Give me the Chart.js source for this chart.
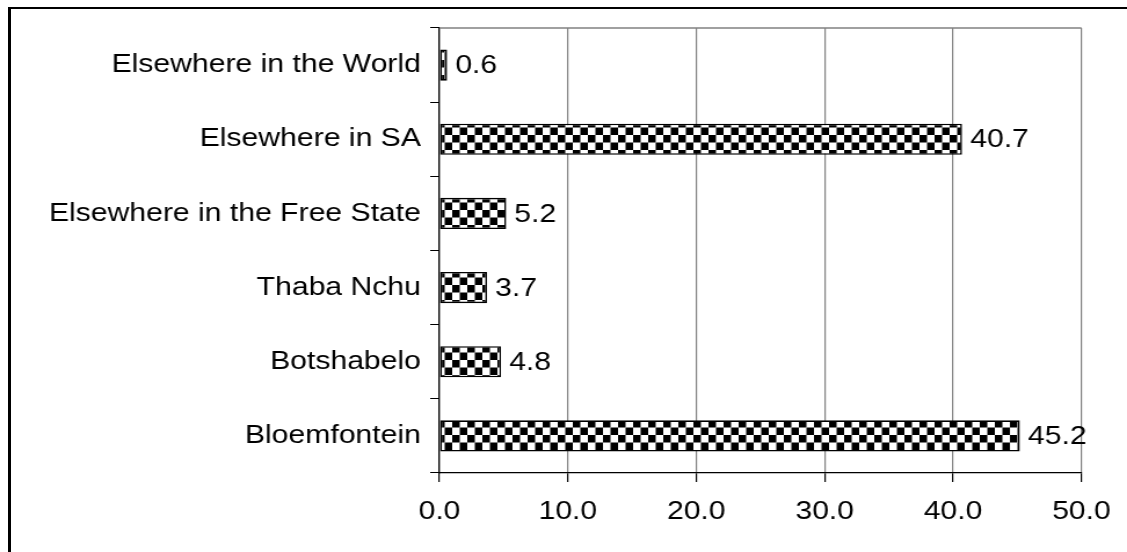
<!DOCTYPE html>
<html>
<head>
<meta charset="utf-8">
<script src="https://cdn.jsdelivr.net/npm/chart.js@4/dist/chart.umd.min.js"></script>
<style>
  html, body { margin: 0; padding: 0; background: #fff; overflow: hidden; }
  #wrap { position: relative; width: 1127px; height: 552px; overflow: hidden; }
  #frame { position: absolute; left: 8px; top: 7px; width: 1200px; height: 600px;
           border-left: 3px solid #000; border-top: 2px solid #000; box-sizing: border-box; }
  #stretch { position: absolute; left: 0; top: 0; width: 972px; height: 552px;
             transform: scaleX(1.1595); transform-origin: 0 0; }
</style>
</head>
<body>
<div id="wrap">
  <div id="frame"></div>
  <div id="stretch"><canvas id="chart" width="972" height="552" style="width:972px;height:552px"></canvas></div>
</div>
<script>
// Place of residence, percentage share
const categories = [
  'Elsewhere in the World',
  'Elsewhere in SA',
  'Elsewhere in the Free State',
  'Thaba Nchu',
  'Botshabelo',
  'Bloemfontein'
];
const shares = [0.6, 40.7, 5.2, 3.7, 4.8, 45.2];
const axisMin = 0;
const axisMax = 50;
const axisStep = 10;

const FONT = '"Liberation Sans", Arial, sans-serif';
const FONT_SIZE = 26;

// Black-and-white checkerboard fill for the bars
function checkerPattern() {
  const c = document.createElement('canvas');
  c.width = 13; c.height = 15;
  const g = c.getContext('2d');
  g.fillStyle = '#fff';
  g.fillRect(0, 0, 13, 15);
  g.fillStyle = '#000';
  g.fillRect(0, 0, 6.5, 7.5);
  g.fillRect(6.5, 7.5, 6.5, 7.5);
  return document.getElementById('chart').getContext('2d').createPattern(c, 'repeat');
}

// Value printed just past the end of every bar
const valueLabels = {
  id: 'valueLabels',
  afterDatasetsDraw(chart) {
    const ctx = chart.ctx;
    const meta = chart.getDatasetMeta(0);
    ctx.save();
    ctx.font = FONT_SIZE + 'px ' + FONT;
    ctx.fillStyle = '#000';
    ctx.textAlign = 'left';
    ctx.textBaseline = 'middle';
    meta.data.forEach((bar, i) => {
      ctx.fillText(shares[i].toFixed(1), bar.x + 7, bar.y + 1);
    });
    ctx.restore();
  }
};

// Grey frame line along the top of the plot area
const plotTop = {
  id: 'plotTop',
  beforeDatasetsDraw(chart) {
    const { ctx, chartArea } = chart;
    ctx.save();
    ctx.strokeStyle = '#808080';
    ctx.lineWidth = 1.5;
    ctx.beginPath();
    ctx.moveTo(chartArea.left, chartArea.top);
    ctx.lineTo(chartArea.right, chartArea.top);
    ctx.stroke();
    ctx.restore();
  }
};

new Chart(document.getElementById('chart'), {
  type: 'bar',
  data: {
    labels: categories,
    datasets: [{
      data: shares,
      backgroundColor: checkerPattern(),
      borderColor: '#000',
      borderWidth: 1.6,
      borderSkipped: false,
      categoryPercentage: 1,
      barPercentage: 0.42
    }]
  },
  options: {
    indexAxis: 'y',
    responsive: false,
    animation: false,
    devicePixelRatio: 1,
    layout: { padding: { left: 0, right: 39, top: 28, bottom: 0 } },
    plugins: { legend: { display: false }, tooltip: { enabled: false } },
    scales: {
      x: {
        min: axisMin,
        max: axisMax,
        afterFit(scale) { scale.height = 79; },
        ticks: {
          stepSize: axisStep,
          callback: v => Number(v).toFixed(1),
          font: { family: FONT, size: FONT_SIZE },
          color: '#000',
          padding: 14,
          maxRotation: 0
        },
        grid: {
          color: ctx => (ctx.tick && ctx.tick.value === 0) ? '#000' : '#808080',
          lineWidth: 1.2,
          tickColor: '#000',
          tickLength: 9
        },
        border: { color: '#000', width: 1.2 }
      },
      y: {
        afterFit(scale) { scale.width = 379; },
        ticks: {
          font: { family: FONT, size: FONT_SIZE },
          color: '#000',
          padding: 8
        },
        grid: {
          offset: true,
          drawOnChartArea: false,
          drawTicks: true,
          tickColor: '#000',
          tickLength: 8,
          lineWidth: 1
        },
        border: { color: '#000', width: 1.2 }
      }
    }
  },
  plugins: [valueLabels, plotTop]
});
</script>
</body>
</html>
